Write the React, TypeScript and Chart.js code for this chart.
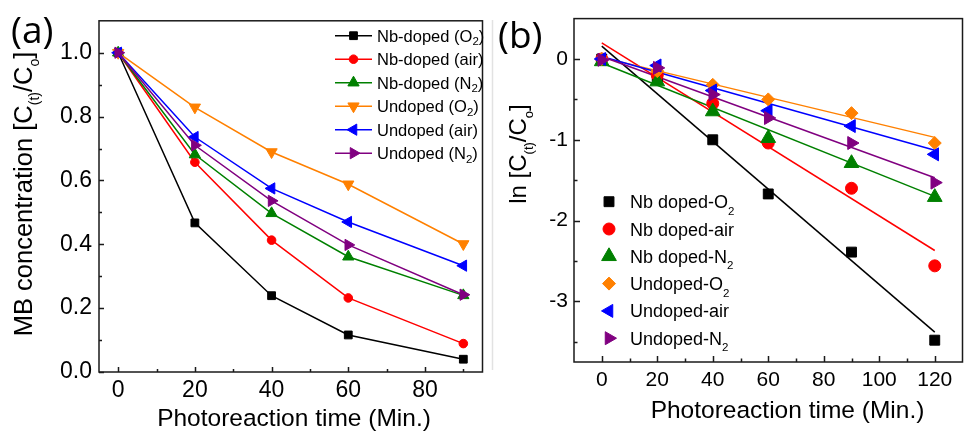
import React, { useEffect, useRef } from 'react';
import { Chart, registerables } from 'chart.js';
import { drawPoint } from 'chart.js/helpers';

Chart.register(...registerables);

// ---------------- Panel (a) data ----------------
const timeA = [0, 20, 40, 60, 90];
const nbO2A = [1.0, 0.467, 0.239, 0.116, 0.04];
const nbAirA = [1.0, 0.657, 0.413, 0.232, 0.089];
const nbN2A = [1.0, 0.681, 0.497, 0.361, 0.24];
const unO2A = [1.0, 0.829, 0.689, 0.588, 0.401];
const unAirA = [1.0, 0.736, 0.575, 0.47, 0.333];
const unN2A = [1.0, 0.71, 0.536, 0.398, 0.242];
const labelsA = ['Nb-doped (O₂)', 'Nb-doped (air)', 'Nb-doped (N₂)', 'Undoped (O₂)', 'Undoped (air)', 'Undoped (N₂)'];
const xTicksA = [0, 20, 40, 60, 80];
const xMinorA = [10, 30, 50, 70, 90];
const yTicksA = [0, 0.2, 0.4, 0.6, 0.8, 1.0];
const yMinorA = [0.1, 0.3, 0.5, 0.7, 0.9];

// ---------------- Panel (b) data ----------------
const timeB = [0, 20, 40, 60, 90, 120];
const nbO2B = [0, -0.23, -1.0, -1.67, -2.39, -3.48];
const nbAirB = [0, -0.2, -0.55, -1.04, -1.6, -2.56];
const nbN2B = [-0.03, -0.28, -0.65, -0.98, -1.29, -1.71];
const unO2B = [0, -0.15, -0.32, -0.5, -0.67, -1.04];
const unAirB = [0, -0.08, -0.39, -0.64, -0.83, -1.18];
const unN2B = [-0.01, -0.11, -0.44, -0.73, -1.04, -1.53];
const fitTime = [0, 120];
const nbO2Fit = [0.16, -3.38];
const nbAirFit = [0.2, -2.37];
const nbN2Fit = [-0.05, -1.7];
const unO2Fit = [0.02, -0.97];
const unAirFit = [0.03, -1.13];
const unN2Fit = [0.03, -1.47];
const labelsB = ['Nb doped-O₂', 'Nb doped-air', 'Nb doped-N₂', 'Undoped-O₂', 'Undoped-air', 'Undoped-N₂'];
const xTicksB = [0, 20, 40, 60, 80, 100, 120];
const xMinorB = [10, 30, 50, 70, 90, 110];
const yTicksB = [0, -1, -2, -3];
const yMinorB = [-0.5, -1.5, -2.5, -3.5];

const titleX = 'Photoreaction time (Min.)';
const titleYA = 'MB concentration [C₍ₜ₎/Cₒ]';
const titleYB = 'ln [C₍ₜ₎/Cₒ]';
const panelLabelA = '(a)';
const panelLabelB = '(b)';

// ---------------- styles ----------------
const FONT = '"Liberation Sans", Arial, sans-serif';
const colors = ['#000000', '#ff0000', '#008000', '#ff8000', '#0000ff', '#800080'];
const stylesA: [string, number][] = [['rect', 0], ['circle', 0], ['triangle', 0], ['triangle', 180], ['triangle', 270], ['triangle', 90]];
const radiiA = [5.5, 4.3, 6.5, 6.5, 6.5, 6.5];
const stylesB: [string, number][] = [['rect', 0], ['circle', 0], ['triangle', 0], ['rectRot', 0], ['triangle', 270], ['triangle', 90]];
const radiiB = [7, 6, 8.5, 6.5, 7.5, 7.5];

const SUBMAP: Record<string, string> = {
  '₀': '0', '₁': '1', '₂': '2', '₃': '3', '₍': '(', '₎': ')', 'ₜ': 't', 'ₒ': 'o',
};
function richParts(s: string) {
  const out: { t: string; sub: boolean }[] = [];
  for (const ch of s) {
    const sub = ch in SUBMAP;
    const c = sub ? SUBMAP[ch] : ch;
    const last = out[out.length - 1];
    if (last && last.sub === sub) last.t += c;
    else out.push({ t: c, sub });
  }
  return out;
}
function drawRich(
  ctx: CanvasRenderingContext2D, s: string, x: number, y: number,
  o: { size: number; subSize: number; subDy: number; align: 'left' | 'center'; family?: string }
) {
  const ps = richParts(s);
  const fam = o.family || FONT;
  const fontOf = (sub: boolean) => `${sub ? o.subSize : o.size}px ${fam}`;
  let w = 0;
  for (const p of ps) { ctx.font = fontOf(p.sub); w += ctx.measureText(p.t).width; }
  let cx = o.align === 'center' ? x - w / 2 : x;
  ctx.textAlign = 'left';
  ctx.textBaseline = 'alphabetic';
  for (const p of ps) {
    ctx.font = fontOf(p.sub);
    ctx.fillText(p.t, cx, y + (p.sub ? o.subDy : 0));
    cx += ctx.measureText(p.t).width;
  }
}

function drawFrameTicks(chart: any, xMaj: number[], xMin: number[], yMaj: number[], yMin: number[], maj: number, min: number) {
  const { ctx, chartArea: a, scales } = chart;
  ctx.save();
  ctx.strokeStyle = '#1a1a1a';
  ctx.lineWidth = 1.5;
  ctx.strokeRect(a.left, a.top, a.right - a.left, a.bottom - a.top);
  ctx.beginPath();
  const tx = (vals: number[], len: number) => vals.forEach((v) => {
    const p = Math.round(scales.x.getPixelForValue(v)) + 0.5;
    ctx.moveTo(p, a.bottom); ctx.lineTo(p, a.bottom - len);
  });
  const ty = (vals: number[], len: number) => vals.forEach((v) => {
    const p = Math.round(scales.y.getPixelForValue(v)) + 0.5;
    ctx.moveTo(a.left, p); ctx.lineTo(a.left + len, p);
  });
  tx(xMaj, maj); tx(xMin, min); ty(yMaj, maj); ty(yMin, min);
  ctx.stroke();
  ctx.restore();
}

const pluginA = {
  id: 'decorA',
  beforeDatasetsDraw(chart: any) {
    drawFrameTicks(chart, xTicksA, xMinorA, yTicksA, yMinorA, 5, 3);
  },
  afterDraw(chart: any) {
    const ctx: CanvasRenderingContext2D = chart.ctx;
    ctx.save();
    ctx.fillStyle = '#000';
    ctx.font = `37px "Open Sans", sans-serif`;
    ctx.textAlign = 'left'; ctx.textBaseline = 'alphabetic';
    ctx.fillText(panelLabelA, 11, 43);
    drawRich(ctx, titleX, 294, 426, { size: 24.5, subSize: 14, subDy: 5, align: 'center' });
    ctx.save();
    ctx.translate(32, 194);
    ctx.rotate(-Math.PI / 2);
    drawRich(ctx, titleYA, 0, 0, { size: 25.5, subSize: 14, subDy: 7, align: 'center' });
    ctx.restore();
    chart.data.datasets.forEach((ds: any, i: number) => {
      const y = 35.7 + i * 23.5;
      ctx.strokeStyle = ds.borderColor; ctx.lineWidth = 1.5;
      ctx.beginPath(); ctx.moveTo(335, y); ctx.lineTo(372, y); ctx.stroke();
      ctx.fillStyle = ds.backgroundColor; ctx.lineWidth = 1;
      drawPoint(ctx, { pointStyle: ds.pointStyle, rotation: ds.pointRotation, radius: ds.pointRadius, borderWidth: 1 } as any, 353.5, y);
      ctx.fillStyle = '#000';
      drawRich(ctx, ds.label, 377, y + 6, { size: 16.5, subSize: 11.5, subDy: 3.5, align: 'left' });
    });
    ctx.restore();
  },
};

const pluginB = {
  id: 'decorB',
  beforeDatasetsDraw(chart: any) {
    const ctx: CanvasRenderingContext2D = chart.ctx;
    ctx.save();
    ctx.strokeStyle = '#e2e2e2'; ctx.lineWidth = 1.5;
    ctx.beginPath(); ctx.moveTo(2.5, 20); ctx.lineTo(2.5, 370); ctx.stroke();
    ctx.restore();
    drawFrameTicks(chart, xTicksB, xMinorB, yTicksB, yMinorB, 6, 3.5);
  },
  afterDraw(chart: any) {
    const ctx: CanvasRenderingContext2D = chart.ctx;
    ctx.save();
    ctx.fillStyle = '#000';
    ctx.font = `37px "Open Sans", sans-serif`;
    ctx.textAlign = 'left'; ctx.textBaseline = 'alphabetic';
    ctx.fillText(panelLabelB, 8, 48);
    drawRich(ctx, titleX, 297.5, 418, { size: 24.5, subSize: 14, subDy: 5, align: 'center' });
    ctx.save();
    ctx.translate(36, 154);
    ctx.rotate(-Math.PI / 2);
    drawRich(ctx, titleYB, 0, 0, { size: 24, subSize: 13, subDy: 7, align: 'center' });
    ctx.restore();
    chart.data.datasets.forEach((ds: any, i: number) => {
      if (ds.isFit) return;
      const y = 201.7 + i * 27.3;
      ctx.fillStyle = ds.backgroundColor; ctx.strokeStyle = ds.borderColor; ctx.lineWidth = 1;
      drawPoint(ctx, { pointStyle: ds.pointStyle, rotation: ds.pointRotation, radius: ds.pointRadius, borderWidth: 1 } as any, 119, y);
      ctx.fillStyle = '#000';
      drawRich(ctx, ds.label, 140, y + 6.5, { size: 18, subSize: 11.5, subDy: 6.5, align: 'left' });
    });
    ctx.restore();
  },
};

const seriesA = [nbO2A, nbAirA, nbN2A, unO2A, unAirA, unN2A];
const seriesB = [nbO2B, nbAirB, nbN2B, unO2B, unAirB, unN2B];
const fitsB = [nbO2Fit, nbAirFit, nbN2Fit, unO2Fit, unAirFit, unN2Fit];

function tickFont(size: number) {
  return { family: FONT, size };
}

export default function App() {
  const refA = useRef<HTMLCanvasElement>(null);
  const refB = useRef<HTMLCanvasElement>(null);

  useEffect(() => {
    document.body.style.margin = '0';
    const chartA = new Chart(refA.current as HTMLCanvasElement, {
      type: 'scatter',
      data: {
        datasets: seriesA.map((vals, i) => ({
          label: labelsA[i],
          data: timeA.map((t, j) => ({ x: t, y: vals[j] })),
          showLine: true,
          borderColor: colors[i],
          backgroundColor: colors[i],
          borderWidth: 1.5,
          pointStyle: stylesA[i][0] as any,
          pointRotation: stylesA[i][1],
          pointRadius: radiiA[i],
          pointBorderWidth: 1,
          order: 5 - i,
        })) as any,
      },
      options: {
        animation: false,
        responsive: false,
        events: [],
        layout: { padding: { top: 19, right: 1, left: 0, bottom: 0 } },
        plugins: { legend: { display: false }, tooltip: { enabled: false } },
        scales: {
          x: {
            type: 'linear', min: -5, max: 95,
            grid: { display: false, drawTicks: false },
            border: { display: false },
            ticks: { font: tickFont(23), color: '#000', padding: 5, maxRotation: 0, autoSkip: false },
            afterBuildTicks: (s: any) => { s.ticks = xTicksA.map((v) => ({ value: v })); },
            afterFit: (s: any) => { s.height = 59; },
          },
          y: {
            type: 'linear', min: 0, max: 1.1,
            grid: { display: false, drawTicks: false },
            border: { display: false },
            ticks: { font: tickFont(23), color: '#000', padding: 7, autoSkip: false, callback: (v: any) => Number(v).toFixed(1) },
            afterBuildTicks: (s: any) => { s.ticks = yTicksA.map((v) => ({ value: v })); },
            afterFit: (s: any) => { s.width = 99; },
          },
        },
      } as any,
      plugins: [pluginA],
    });

    const markerSets = seriesB.map((vals, i) => ({
      label: labelsB[i],
      data: timeB.map((t, j) => ({ x: t, y: vals[j] })),
      showLine: false,
      borderColor: colors[i],
      backgroundColor: colors[i],
      pointStyle: stylesB[i][0] as any,
      pointRotation: stylesB[i][1],
      pointRadius: radiiB[i],
      pointBorderWidth: 1,
      order: 5 - i,
    }));
    const fitSets = fitsB.map((vals, i) => ({
      label: labelsB[i] + ' fit',
      isFit: true,
      data: fitTime.map((t, j) => ({ x: t, y: vals[j] })),
      showLine: true,
      borderColor: colors[i],
      backgroundColor: colors[i],
      borderWidth: 1.5,
      pointRadius: 0,
      order: 20 - i,
    }));
    const chartB = new Chart(refB.current as HTMLCanvasElement, {
      type: 'scatter',
      data: { datasets: [...markerSets, ...fitSets] as any },
      options: {
        animation: false,
        responsive: false,
        events: [],
        layout: { padding: { top: 12, right: 2, left: 0, bottom: 0 } },
        plugins: { legend: { display: false }, tooltip: { enabled: false } },
        scales: {
          x: {
            type: 'linear', min: -10, max: 130,
            grid: { display: false, drawTicks: false },
            border: { display: false },
            ticks: { font: tickFont(21), color: '#000', padding: 6, maxRotation: 0, autoSkip: false },
            afterBuildTicks: (s: any) => { s.ticks = xTicksB.map((v) => ({ value: v })); },
            afterFit: (s: any) => { s.height = 69; },
          },
          y: {
            type: 'linear', min: -3.75, max: 0.5,
            grid: { display: false, drawTicks: false },
            border: { display: false },
            ticks: { font: tickFont(21), color: '#000', padding: 6, autoSkip: false, callback: (v: any) => String(v) },
            afterBuildTicks: (s: any) => { s.ticks = yTicksB.map((v) => ({ value: v })); },
            afterFit: (s: any) => { s.width = 84; },
          },
        },
      } as any,
      plugins: [pluginB],
    });

    return () => { chartA.destroy(); chartB.destroy(); };
  }, []);

  return (
    <div style={{ position: 'fixed', left: 0, top: 0, width: 966, height: 431, overflow: 'hidden', background: '#fff' }}>
      <canvas ref={refA} width={490} height={431} style={{ position: 'absolute', left: 0, top: 0 }} />
      <canvas ref={refB} width={482} height={431} style={{ position: 'absolute', left: 490, top: 0 }} />
    </div>
  );
}
